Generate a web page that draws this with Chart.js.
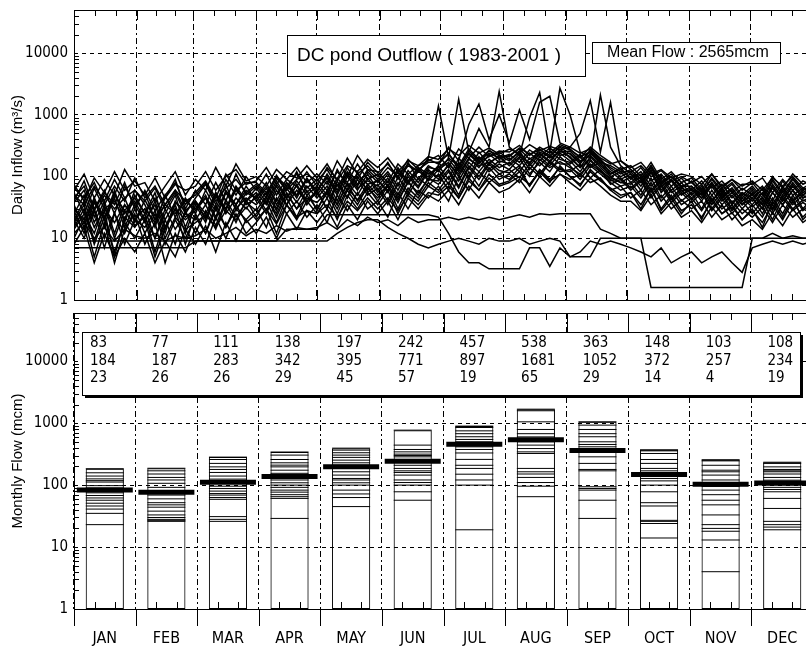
<!DOCTYPE html>
<html>
<head>
<meta charset="utf-8">
<style>
  html, body { margin: 0; padding: 0; background: #fff; overflow: hidden; width: 806px; height: 646px; }
  canvas { position: absolute; left: 0; }
  #daily { top: 0; }
  #monthly { top: 305px; }
</style>
<script src="https://cdn.jsdelivr.net/npm/chart.js@4.4.1/dist/chart.umd.min.js"></script>
</head>
<body>
<canvas id="daily" width="830" height="306"></canvas>
<canvas id="monthly" width="830" height="341"></canvas>
<script>
const months = ["JAN", "FEB", "MAR", "APR", "MAY", "JUN", "JUL", "AUG", "SEP", "OCT", "NOV", "DEC"];
const monthStartDays = [0, 31, 59, 90, 120, 151, 181, 212, 243, 273, 304, 334, 365];
const yTicks = [1, 10, 100, 1000, 10000];
const dayStep = 5;

// daily inflow traces (one per year, values every 5 days from Jan 1)
const daily01 = [40,85,30,60,25,70,35, 55,20,45,90,30, 60,35,80,40,110,50, 70,45,95,60,120,55, 80,50,130,70,100,60, 90,55,140,80,120,100, 150,90,200,130,250,160,220, 180,260,150,230,170,280, 200,140,240,160,120,90, 110,70,130,60,90,55, 70,45,80,50,65,40, 60,35,75,45,80,50,65];
const daily02 = [25,50,18,40,12,35,20, 30,10,25,50,15, 40,20,55,25,45,30, 50,28,70,35,60,40, 55,30,75,45,90,50, 65,35,80,50,95,70, 110,60,150,90,180,120,160, 130,200,110,170,120,210, 150,100,180,130,90,70, 80,50,95,45,70,40, 55,30,60,35,50,30, 45,25,55,35,60,30,45];
const daily03 = [15,30,8,22,6,18,10, 20,5,15,30,8, 25,12,35,15,30,20, 30,15,45,25,40,22, 35,18,50,28,55,30, 40,22,55,30,60,45, 70,40,100,60,120,80,110, 90,140,70,120,80,150, 100,70,130,90,60,45, 55,30,65,28,45,25, 40,20,45,25,35,20, 30,15,40,22,45,20,30];
const daily04 = [60,110,45,90,50,130,70, 80,40,70,120,50, 90,60,140,70,160,85, 100,70,130,90,140,80, 110,75,180,100,220,130, 120,80,160,110,150,180, 220,140,280,200,300,210,260, 250,320,220,300,240,330, 280,200,300,220,170,130, 150,100,170,90,120,80, 95,60,110,70,90,60, 80,50,100,65,110,75,90];
const daily05 = [30,20,45,15,55,25,40, 20,35,12,40,22, 30,50,22,60,35,70, 40,65,30,80,45,90, 50,85,40,100,60,110, 60,95,50,110,70,130, 90,160,110,200,140,230,170, 200,150,240,180,260,190, 170,230,150,190,110,140, 90,120,70,100,60,80, 50,70,40,60,35,55, 40,65,30,70,40,60,45];
const daily06 = [20,10,28,7,25,12,30, 12,25,8,20,10, 22,12,30,15,35,18, 25,40,18,45,22,50, 30,55,25,60,35,70, 40,70,30,65,45,80, 60,100,50,120,70,140,90, 110,80,140,100,170,120, 130,90,150,110,80,60, 70,45,80,40,60,35, 45,28,50,30,40,25, 35,22,45,25,50,28,40];
const daily07 = [50,35,70,40,90,45,60, 40,65,30,55,25, 45,75,35,90,50,100, 60,110,50,90,70,120, 70,140,90,200,110,150, 100,170,90,150,120,190, 160,240,130,260,180,240,200, 230,170,270,210,290,220, 240,170,260,180,140,110, 130,90,150,80,110,70, 80,55,95,60,80,50, 70,45,90,55,95,60,75];
const daily08 = [35,15,45,20,60,18,50, 25,55,15,35,12, 35,18,50,28,65,35, 45,25,60,35,75,40, 60,30,85,45,120,55, 75,40,100,55,130,85, 130,75,170,100,210,130,180, 160,230,130,210,150,240, 180,120,210,140,100,80, 100,60,120,55,85,50, 65,40,75,45,60,35, 55,30,70,40,75,45,55];
const daily09 = [10,22,5,18,4,14,25, 8,18,4,12,6, 15,8,22,10,25,12, 18,30,12,35,20,40, 25,45,20,50,30,55, 35,60,25,55,40,70, 55,80,45,95,60,110,75, 85,120,70,130,90,140, 100,75,120,85,65,50, 55,35,65,30,50,28, 35,22,40,25,32,20, 28,18,35,20,40,22,32];
const daily10 = [45,70,28,55,35,80,30, 60,28,50,80,35, 55,85,45,110,60,80, 80,55,100,70,110,65, 90,60,120,80,160,90, 110,70,130,85,140,110, 140,190,120,230,160,270,190, 220,280,190,250,210,300, 230,160,270,190,130,100, 120,80,140,75,100,65, 85,55,90,55,75,45, 65,40,85,50,90,55,70];
const daily11 = [28,12,38,20,45,15,35, 18,40,14,30,20, 28,45,20,55,30,45, 35,55,28,65,38,70, 45,70,35,80,50,95, 55,85,45,100,65,120, 100,150,85,170,120,190,140, 170,120,200,150,220,160, 160,210,140,170,100,120, 80,110,60,90,55,70, 45,65,35,55,30,50, 35,55,28,60,35,50,40];
const daily12 = [20,40,15,30,18,35,22, 30,18,35,25,40, 30,45,28,55,35,60, 45,70,40,80,50,90, 60,100,55,120,70,130, 90,140,100,160,120,200, 1400,200,1800,250,600,300,2400, 300,220,900,2300,250,2700, 1000,250,200,2100,300,150, 110,80,120,70,90,60, 60,45,70,40,55,35, 45,30,55,35,60,40,50];
const daily13 = [30,18,40,22,50,28,45, 25,45,20,38,28, 40,25,55,30,70,40, 55,35,75,45,85,50, 70,45,95,60,110,75, 85,60,120,75,140,90, 150,300,180,700,1500,400,1000, 350,1200,400,1600,2000,350, 300,500,1700,250,1600,180, 130,90,150,80,100,70, 70,50,80,45,65,40, 50,35,65,40,70,45,55];
const daily14 = [7,7,7,7,7,7,7, 7,7,7,7,7, 9,9,9,9,9,9, 9,9,9,14,14,14, 14,24,24,24,24,24, 24,24,24,24,24,24, 22,12,6,4,4,3.2,3.2, 3.2,3.2,7,7,3.5,7, 5,5,5,10,10,10, 10,10,10,10,10,10, 10,10,10,10,10,10, 10,10,10,10,10,10,10];
const daily15 = [12,18,10,15,9,14,11, 10,12,9,11,10, 11,14,10,12,15,11, 14,12,16,13,15,14, 15,18,14,20,16,22, 18,20,16,22,18,20, 20,22,20,22,20,22,20, 22,24,22,25,24,25, 25,25,25,14,12,10, 10,10,1.6,1.6,1.6,1.6, 1.6,1.6,1.6,1.6,1.6,1.6, 10,10,12,10,11,10,10];
const daily16 = [9,9,9,9,9,9,9, 9,9,9,9,9, 9,9,9,9,9,9, 9,9,9,9,9,9, 9,9,12,15,18,20, 20,15,12,10,8,7, 8,9,10,9,8,10,9, 9,10,8,9,10,9, 5,6,9,8,9,8, 7,6,5,7,4,5, 6,4,5,6,4,2.8, 7,8,9,8,9,8,9];
const daily17 = [55,25,65,30,40,20,60, 35,15,50,22,45, 25,60,30,75,28,55, 45,80,35,70,50,95, 55,110,60,140,75,120, 80,120,70,170,90,150, 120,200,150,240,170,210,250, 190,240,160,280,200,250, 260,180,220,150,110,130, 95,140,85,110,70,95, 60,85,50,75,45,65, 50,70,40,85,50,65,55];
const daily18 = [18,35,9,28,5,22,15, 25,6,20,8,28, 12,28,14,38,18,42, 22,45,25,55,30,60, 28,60,35,75,40,65, 45,75,38,85,50,95, 75,120,65,140,90,160,110, 130,95,160,110,180,130, 120,160,95,130,75,90, 60,85,45,70,38,55, 38,55,28,45,25,40, 25,40,20,45,28,38,30];
const daily19 = [75,40,95,55,120,60,85, 50,95,45,75,60, 70,120,60,100,130,75, 85,140,75,120,95,150, 95,160,85,150,120,190, 140,200,120,180,150,210, 190,280,220,320,240,290,230, 280,240,330,260,310,270, 300,240,280,200,160,180, 140,170,110,130,95,110, 100,75,110,65,90,70, 85,60,95,70,100,65,80];
const daily20 = [22,14,30,10,26,8,20, 15,28,10,22,14, 18,24,15,28,20,32, 20,30,17,35,22,28, 25,35,22,40,28,45, 30,45,28,50,35,55, 50,70,45,85,60,95,70, 80,100,75,120,85,110, 90,110,80,95,60,70, 45,60,35,50,30,42, 30,40,22,35,20,30, 22,32,18,35,22,30,25];
const daily21 = [38,60,22,50,30,45,18, 42,20,35,60,28, 38,22,48,30,60,40, 65,38,85,45,70,35, 60,95,50,110,65,85, 70,110,60,125,80,140, 130,170,100,190,150,170,210, 150,210,170,240,180,260, 210,140,190,120,95,80, 75,100,55,85,45,65, 55,75,40,65,38,55, 45,62,35,65,40,55,48];
const daily22 = [8,15,4,12,5,10,6, 12,4,9,5,14, 8,16,6,18,9,20, 12,22,10,25,14,28, 18,30,15,35,20,40, 25,40,20,45,30,50, 40,60,35,70,45,80,55, 65,90,55,100,70,110, 80,60,95,70,50,40, 40,28,50,25,38,22, 28,18,32,20,26,16, 20,14,26,16,30,18,24];
const daily23 = [65,45,80,35,70,40,95, 45,70,35,60,40, 50,80,40,65,90,55, 75,50,105,60,90,110, 85,130,70,115,90,170, 115,160,100,190,130,170, 170,230,150,280,190,260,220, 210,290,230,270,220,310, 270,210,250,170,150,120, 120,150,100,125,85,100, 80,100,65,85,55,75, 75,95,55,90,60,85,70];
const daily24 = [14,25,12,35,10,28,16, 22,10,30,14,25, 20,35,16,42,22,38, 28,48,22,52,30,45, 38,58,30,65,42,75, 50,72,42,80,55,90, 85,130,70,150,100,170,125, 115,150,100,190,140,175, 140,110,160,120,85,95, 65,90,50,75,42,60, 42,60,30,50,28,45, 32,45,25,50,30,42,35];
const dailySeries = [daily01, daily02, daily03, daily04, daily05, daily06, daily07, daily08,
  daily09, daily10, daily11, daily12, daily13, daily14, daily15, daily16,
  daily17, daily18, daily19, daily20, daily21, daily22, daily23, daily24];

// monthly flow table: mean / max / min (mcm)
const meanFlow = [83, 77, 111, 138, 197, 242, 457, 538, 363, 148, 103, 108];
const maxFlow = [184, 187, 283, 342, 395, 771, 897, 1681, 1052, 372, 257, 234];
const minFlow = [23, 26, 26, 29, 45, 57, 19, 65, 29, 14, 4, 19];

// yearly monthly flows, one array per month
const janFlows = [184, 158, 140, 126, 118, 112, 98, 90, 82, 80, 75, 68, 62, 57, 51, 46, 41, 35, 23];
const febFlows = [187, 170, 151, 133, 121, 107, 92, 80, 69, 60, 52, 48, 44, 38, 33, 30, 28, 27, 26];
const marFlows = [283, 259, 224, 197, 179, 160, 140, 125, 110, 96, 88, 80, 73, 69, 63, 59, 31, 28, 26];
const aprFlows = [342, 305, 259, 229, 210, 197, 174, 155, 140, 121, 109, 100, 92, 83, 77, 70, 65, 61, 29];
const mayFlows = [395, 367, 333, 305, 280, 253, 229, 210, 186, 164, 145, 128, 121, 109, 100, 83, 72, 63, 45];
const junFlows = [771, 442, 376, 344, 316, 300, 286, 260, 240, 209, 186, 170, 160, 145, 121, 110, 100, 78, 57];
const julFlows = [897, 851, 751, 676, 603, 546, 500, 470, 442, 415, 376, 330, 260, 209, 186, 150, 121, 100, 19];
const augFlows = [1681, 1585, 1050, 791, 676, 600, 540, 500, 442, 389, 344, 324, 186, 164, 151, 133, 110, 96, 65];
const sepFlows = [1052, 929, 791, 676, 603, 500, 453, 415, 376, 344, 286, 224, 179, 170, 94, 88, 83, 57, 29];
const octFlows = [372, 357, 324, 259, 224, 186, 170, 160, 145, 128, 117, 100, 78, 52, 46, 27, 26, 24, 14];
const novFlows = [257, 246, 209, 174, 164, 145, 121, 110, 95, 83, 70, 57, 48, 33, 23, 20, 18, 13, 4];
const decFlows = [234, 224, 197, 179, 170, 164, 151, 133, 120, 100, 92, 85, 78, 61, 42, 26, 23, 21, 19];
const monthFlows = [janFlows, febFlows, marFlows, aprFlows, mayFlows, junFlows,
  julFlows, augFlows, sepFlows, octFlows, novFlows, decFlows];

const NARROW = '"Liberation Sans Narrow", "Arial Narrow", "DejaVu Sans Condensed", "Liberation Sans", sans-serif';
const SANS = '"Liberation Sans", Arial, sans-serif';

Chart.defaults.color = "#000";
Chart.defaults.font.family = SANS;

function line(ctx, x1, y1, x2, y2) {
  ctx.beginPath();
  ctx.moveTo(x1, y1);
  ctx.lineTo(x2, y2);
  ctx.stroke();
}

// frame + inside tick marks, the way the original plot draws them
function frameTicks(getMarks) {
  return {
    id: "frameTicks",
    afterDraw(chart) {
      const { ctx, chartArea } = chart;
      const { left, right, top, bottom } = chartArea;
      const y = chart.scales.y;
      ctx.save();
      ctx.strokeStyle = "#000";
      ctx.lineWidth = 1;
      ctx.setLineDash([]);
      ctx.strokeRect(Math.round(left) + 0.5, Math.round(top) + 0.5, Math.round(right - left), Math.round(bottom - top));
      for (let d = 0; d <= 4; d++) {
        for (let k = 2; k <= 9; k++) {
          const v = k * Math.pow(10, d);
          if (v >= y.max) continue;
          const py = Math.round(y.getPixelForValue(v)) + 0.5;
          line(ctx, left, py, left + 5, py);
        }
      }
      getMarks(chart).forEach(m => line(ctx, Math.round(m.x) + 0.5, m.y1, Math.round(m.x) + 0.5, m.y2));
      ctx.restore();
    }
  };
}

const dailyMarks = chart => {
  const x = chart.scales.x;
  const { top, bottom } = chart.chartArea;
  const marks = [];
  for (let m = 0; m < 12; m++) {
    const s = monthStartDays[m], e = monthStartDays[m + 1];
    const px = x.getPixelForValue(s);
    marks.push({ x: px, y1: top, y2: top + 10 }, { x: px, y1: bottom, y2: bottom - 10 });
    for (let k = 1; k <= 2; k++) {
      const p = x.getPixelForValue(s + (e - s) * k / 3);
      marks.push({ x: p, y1: top, y2: top + 6 }, { x: p, y1: bottom, y2: bottom - 6 });
    }
  }
  return marks;
};

const monthlyMarks = chart => {
  const { left, right, top, bottom } = chart.chartArea;
  const cw = (right - left) / months.length;
  const marks = [];
  for (let m = 0; m <= 12; m++) {
    const px = left + m * cw;
    marks.push({ x: px, y1: top, y2: top + 19 }, { x: px, y1: bottom, y2: bottom + 17 });
    if (m === 12) break;
    for (let k = 1; k <= 2; k++) {
      const p = px + cw * k / 3;
      marks.push({ x: p, y1: top, y2: top + 7 }, { x: p, y1: bottom, y2: bottom - 7 });
    }
  }
  return marks;
};

const titleBoxes = {
  id: "titleBoxes",
  afterDraw(chart) {
    const ctx = chart.ctx;
    ctx.save();
    ctx.setLineDash([]);
    ctx.lineWidth = 1;
    ctx.strokeStyle = "#000";
    ctx.fillStyle = "#fff";
    ctx.fillRect(287, 35, 298, 41);
    ctx.strokeRect(287.5, 35.5, 298, 41);
    ctx.fillRect(592, 42, 188, 21);
    ctx.strokeRect(592.5, 42.5, 188, 21);
    ctx.fillStyle = "#000";
    ctx.textBaseline = "middle";
    ctx.font = "19px " + SANS;
    ctx.textAlign = "left";
    ctx.fillText("DC pond Outflow ( 1983-2001 )", 297, 56);
    ctx.font = "16px " + SANS;
    ctx.textAlign = "center";
    ctx.fillText("Mean Flow : 2565mcm", 688, 53);
    ctx.restore();
  }
};

const flowTable = {
  id: "flowTable",
  afterDatasetsDraw(chart) {
    const { ctx, chartArea } = chart;
    const { left, right, top } = chartArea;
    const cw = (right - left) / months.length;
    ctx.save();
    ctx.setLineDash([]);
    ctx.fillStyle = "#000";
    ctx.fillRect(left + 11, top + 22, 718, 63);
    ctx.fillStyle = "#fff";
    ctx.fillRect(left + 8, top + 19, 718, 63);
    ctx.strokeStyle = "#000";
    ctx.lineWidth = 1;
    ctx.strokeRect(left + 8.5, top + 19.5, 718, 63);
    ctx.fillStyle = "#000";
    ctx.font = "15px " + NARROW;
    ctx.textAlign = "left";
    ctx.textBaseline = "middle";
    months.forEach((m, i) => {
      const tx = left + i * cw + 16;
      ctx.fillText(String(meanFlow[i]), tx, top + 30);
      ctx.fillText(String(maxFlow[i]), tx, top + 48);
      ctx.fillText(String(minFlow[i]), tx, top + 65);
    });
    ctx.restore();
  }
};

const logAxis = (max, title) => ({
  type: "logarithmic",
  min: 1,
  max: max,
  afterBuildTicks: s => { s.ticks = yTicks.map(v => ({ value: v })); },
  afterFit: s => { s.width = 74; s.paddingTop = 0; s.paddingBottom = 0; },
  ticks: { callback: v => String(v), font: { size: 15, family: NARROW }, padding: 6, color: "#000" },
  grid: { color: "#000", lineWidth: 1, drawTicks: false },
  border: { display: false, dash: [4, 4] },
  title: { display: true, text: title, font: { size: 15, family: SANS }, color: "#000", padding: { top: 9, bottom: 0 } }
});

new Chart(document.getElementById("daily"), {
  type: "line",
  data: {
    datasets: dailySeries.map(s => ({
      data: s.map((v, i) => ({ x: i * dayStep, y: v })),
      borderColor: "#000",
      borderWidth: 1.5,
      pointRadius: 0,
      tension: 0
    }))
  },
  options: {
    responsive: false,
    animation: false,
    events: [],
    layout: { autoPadding: false, padding: { top: 10, right: 17, left: 0, bottom: 0 } },
    plugins: { legend: { display: false }, tooltip: { enabled: false } },
    scales: {
      x: {
        type: "linear",
        min: 0,
        max: 365,
        afterBuildTicks: s => { s.ticks = monthStartDays.map(v => ({ value: v })); },
        afterFit: s => { s.height = 6; s.paddingLeft = 0; s.paddingRight = 0; },
        ticks: { display: false },
        grid: { color: "#000", lineWidth: 1, drawTicks: false },
        border: { display: false, dash: [6, 3, 2, 3] }
      },
      y: logAxis(50000, "Daily Inflow (m³/s)")
    }
  },
  plugins: [frameTicks(dailyMarks), titleBoxes]
});

new Chart(document.getElementById("monthly"), {
  type: "bar",
  data: {
    labels: months,
    datasets: [
      {
        type: "bar",
        data: maxFlow.map(v => [1, v]),
        backgroundColor: "rgba(0,0,0,0)",
        borderColor: "#000",
        borderWidth: 1,
        borderSkipped: false,
        categoryPercentage: 0.62,
        barPercentage: 1
      },
      ...monthFlows.map((vals, m) => ({
        type: "line",
        data: vals.map(v => ({ x: months[m], y: v })),
        showLine: false,
        pointStyle: "line",
        pointRadius: 19,
        pointBorderWidth: 1,
        pointBorderColor: "#000",
        borderColor: "#000"
      })),
      {
        type: "line",
        data: meanFlow,
        showLine: false,
        pointStyle: "line",
        pointRadius: 28,
        pointBorderWidth: 5,
        pointBorderColor: "#000",
        borderColor: "#000"
      }
    ]
  },
  options: {
    responsive: false,
    animation: false,
    events: [],
    layout: { autoPadding: false, padding: { top: 8, right: 17, left: 0, bottom: 0 } },
    plugins: { legend: { display: false }, tooltip: { enabled: false } },
    scales: {
      x: {
        type: "category",
        offset: true,
        afterFit: s => { s.height = 37; s.paddingLeft = 0; s.paddingRight = 0; },
        ticks: { font: { size: 16, family: NARROW }, padding: 20, color: "#000", maxRotation: 0 },
        grid: { offset: true, color: "#000", lineWidth: 1, drawTicks: false },
        border: { display: false, dash: [6, 3, 2, 3] }
      },
      y: logAxis(60000, "Monthly Flow (mcm)")
    }
  },
  plugins: [flowTable, frameTicks(monthlyMarks)]
});
</script>
</body>
</html>
